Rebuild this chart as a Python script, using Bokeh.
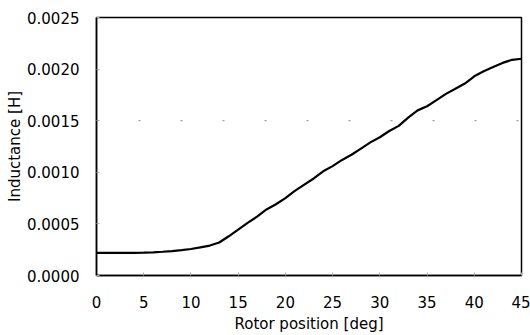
from bokeh.plotting import figure
from bokeh.models import Range1d, FixedTicker, Span, PrintfTickFormatter, ColumnDataSource
from bokeh.embed import file_html
from bokeh.resources import INLINE

rotor_deg = list(range(0, 46))
inductance_h = [
    0.000220, 0.000220, 0.000220, 0.000220, 0.000220, 0.000222, 0.000225, 0.000230,
    0.000237, 0.000246, 0.000257, 0.000272, 0.000290, 0.000320, 0.000380, 0.000445,
    0.000510, 0.000570, 0.000640, 0.000690, 0.000750, 0.000820, 0.000880, 0.000940,
    0.001010, 0.001060, 0.001120, 0.001170, 0.001230, 0.001290, 0.001340, 0.001400,
    0.001450, 0.001530, 0.001600, 0.001640, 0.001700, 0.001760, 0.001810, 0.001860,
    0.001930, 0.001980, 0.002020, 0.002060, 0.002090, 0.002100,
]
x_ticks = [0, 5, 10, 15, 20, 25, 30, 35, 40, 45]
y_ticks = [0.0, 0.0005, 0.0010, 0.0015, 0.0020, 0.0025]

FONT = "DejaVu Sans"

p = figure(width=530, height=335, output_backend="svg", toolbar_location=None,
           x_range=Range1d(0, 45), y_range=Range1d(0, 0.0025),
           min_border_left=96, min_border_right=9, min_border_top=17, min_border_bottom=60)
p.background_fill_color = "white"
p.border_fill_color = "white"
p.outline_line_color = "black"
p.outline_line_width = 1.5

src = ColumnDataSource(dict(x=rotor_deg, y=inductance_h))
p.line("x", "y", source=src, line_color="black", line_width=2.2)

p.xgrid.visible = False
p.ygrid.visible = False
p.add_layout(Span(location=0.0015, dimension="width", line_color="#888888",
                  line_width=1, line_dash="2 40"))

for ax in (p.xaxis[0], p.yaxis[0]):
    ax.axis_line_color = "black"
    ax.axis_line_width = 1.5
    ax.major_tick_out = 0
    ax.major_tick_in = 3
    ax.major_tick_line_color = "#aaaaaa"
    ax.minor_tick_line_color = None
    ax.major_label_text_font = FONT
    ax.major_label_text_font_size = "15px"
    ax.major_label_text_color = "black"
    ax.axis_label_text_font = FONT
    ax.axis_label_text_font_size = "15px"
    ax.axis_label_text_font_style = "normal"
    ax.axis_label_text_color = "black"

p.xaxis.ticker = FixedTicker(ticks=x_ticks)
p.yaxis.ticker = FixedTicker(ticks=y_ticks)
p.yaxis.formatter = PrintfTickFormatter(format="%.4f")
p.xaxis.axis_label = "Rotor position [deg]"
p.yaxis.axis_label = "Inductance [H]"
p.xaxis.major_label_standoff = 20
p.xaxis.axis_label_standoff = 4
p.yaxis.major_label_standoff = 17
p.yaxis.axis_label_standoff = 0

open("out.html", "w").write(file_html(p, INLINE))
